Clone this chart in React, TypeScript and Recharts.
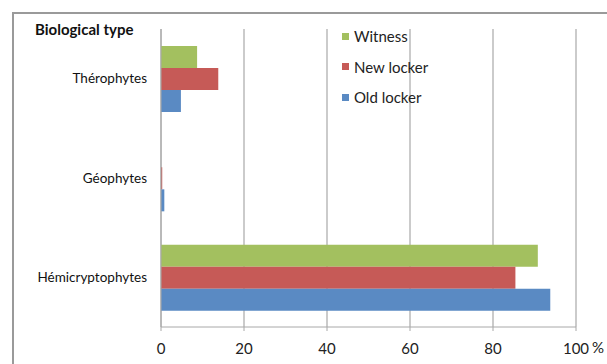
import { BarChart, Bar, XAxis, YAxis, CartesianGrid } from "recharts";

// share (%) of each biological type, by plot
const categories = ["Thérophytes", "Géophytes", "Hémicryptophytes"];
const witness = [8.7, 0, 90.8];
const newLocker = [13.8, 0.3, 85.4];
const oldLocker = [4.8, 0.8, 93.8];
const xTicks = [0, 20, 40, 60, 80, 100];

const series = [
  { key: "witness", name: "Witness", color: "#A3C05F" },
  { key: "newLocker", name: "New locker", color: "#C65A57" },
  { key: "oldLocker", name: "Old locker", color: "#5A8AC3" },
];

const data = categories.map((type, i) => ({
  type,
  witness: witness[i],
  newLocker: newLocker[i],
  oldLocker: oldLocker[i],
}));

const FONT = "Lato, 'Open Sans', sans-serif";

function LegendBox() {
  return (
    <div style={{ position: "absolute", left: 342, top: 21, fontFamily: FONT, fontSize: 15, color: "#222", zIndex: 2 }}>
      {series.map((s) => (
        <div key={s.key} style={{ display: "flex", alignItems: "center", height: 30.5 }}>
          <span style={{ width: 7, height: 7, background: s.color, marginRight: 5 }} />
          <span>{s.name}</span>
        </div>
      ))}
    </div>
  );
}

export default function App() {
  return (
    <div style={{ position: "absolute", top: 0, left: 0, width: 607, height: 364, background: "#fff", overflow: "hidden" }}>
      <div
        style={{
          position: "absolute",
          left: 12,
          top: 12,
          width: 620,
          height: 400,
          borderLeft: "2px solid #9a9a9a",
          borderTop: "2px solid #9a9a9a",
        }}
      />
      <div
        style={{
          position: "absolute",
          left: 35,
          top: 20,
          fontFamily: FONT,
          fontWeight: 700,
          fontSize: 15,
          color: "#111",
        }}
      >
        Biological type
      </div>
      <div style={{ position: "absolute", left: 592, top: 338, fontFamily: FONT, fontSize: 15, color: "#222" }}>%</div>
      <BarChart
        width={607}
        height={364}
        data={data}
        layout="vertical"
        margin={{ top: 29, right: 31, left: 0, bottom: 0 }}
        barGap={0}
        barSize={22}
        style={{ position: "absolute", top: 0, left: 0 }}
      >
        <CartesianGrid horizontal={false} stroke="#a8a8a8" strokeWidth={1.2} />
        <XAxis
          type="number"
          domain={[0, 100]}
          ticks={xTicks}
          height={37}
          axisLine={{ stroke: "#a8a8a8" }}
          tickLine={{ stroke: "#a8a8a8" }}
          tickSize={4}
          tickMargin={12}
          tick={{ fontSize: 15, fill: "#222", fontFamily: FONT }}
        />
        <YAxis
          type="category"
          dataKey="type"
          width={161}
          axisLine={{ stroke: "#a8a8a8" }}
          tickLine={false}
          tickMargin={8}
          tick={{ fontSize: 13.5, fill: "#111", fontFamily: FONT }}
        />
        {series.map((s) => (
          <Bar key={s.key} dataKey={s.key} name={s.name} fill={s.color} isAnimationActive={false} />
        ))}
      </BarChart>
      <LegendBox />
    </div>
  );
}
